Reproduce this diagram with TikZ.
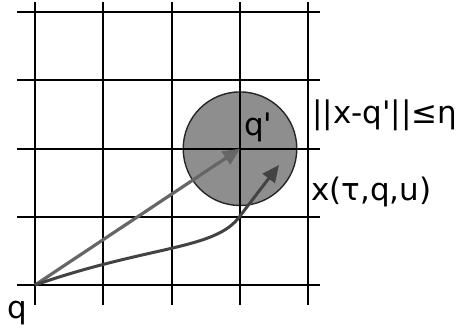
\documentclass[tikz,border=0pt]{standalone}
\usepackage{fontspec}
\setmainfont{DejaVu Sans}
\usetikzlibrary{arrows.meta}
\definecolor{discgray}{HTML}{8E8E8E}
\definecolor{arrgray}{HTML}{666666}
\definecolor{curvegray}{HTML}{434343}
\begin{document}
\begin{tikzpicture}[x=1pt,y=-1pt,
  gridline/.style={line width=2pt,black},
  disc/.style={draw=black!85,line width=1.4pt,fill=discgray},
  straightarr/.style={line width=3.2pt,arrgray,-{Triangle[length=17pt,width=15pt]}},
  curvearr/.style={line width=3pt,curvegray,-{Triangle[length=17pt,width=15pt]}},
  lbl/.style={inner sep=0pt,font=\fontsize{31}{34}\selectfont}]
\useasboundingbox (0,0) rectangle (460,327);
% grid
\foreach \x in {35,103.3,171.7,240,308.3}
  \draw[gridline] (\x,2) -- (\x,305);
\foreach \y in {12,80.3,148.7,217,285}
  \draw[gridline] (17,\y) -- (320,\y);
% disc
\coordinate (qc) at (240,148.7);
\draw[disc] (qc) circle[radius=56.8];
\draw[gridline] (183.2,148.7) -- (296.8,148.7);
\draw[gridline] (240,91.9) -- (240,205.5);
% points
\coordinate (q) at (35,285);
\coordinate (bend) at (240,216);
\coordinate (tip) at (279,165);
% arrows
\draw[straightarr] (q) -- (qc);
\draw[curvearr] (q) .. controls (150,245) and (216,250) .. (bend) -- (tip);
% labels
\node[lbl,anchor=base west] (qlbl) at (7,318) {q};
\node[lbl,anchor=base west] (qplbl) at (244,135) {q\textquotesingle};
\node[lbl,anchor=base west] (normlbl) at (312,123) {||x-q\textquotesingle||≤η};
\node[lbl,anchor=base west] (xlbl) at (311,200) {x(τ,q,u)};
\end{tikzpicture}
\end{document}
